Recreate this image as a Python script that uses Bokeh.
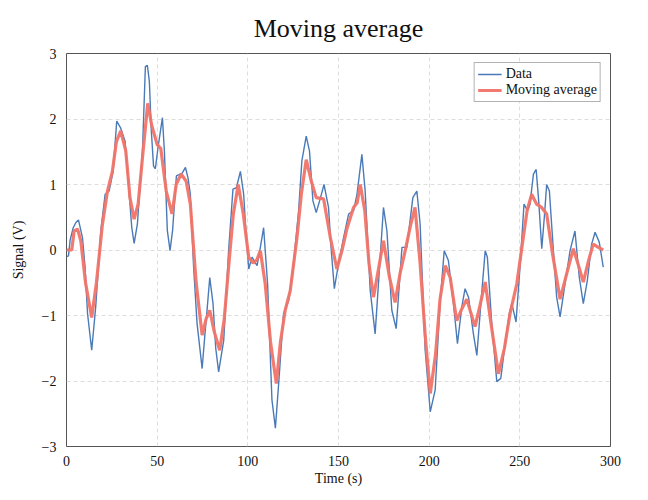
from bokeh.plotting import figure
from bokeh.models import Range1d, FixedTicker, Legend, LegendItem
from bokeh.embed import file_html
from bokeh.resources import INLINE

# ---- data ----
data_t = [0, 1.1, 2.0, 3.7, 5.2, 6.6, 8.8, 10.2, 11.6, 13.9, 16.1, 17.5, 18.9, 21.3, 23.5,
          25.7, 27.7, 29.9, 32.3, 34.2, 36.0, 37.3, 39.1, 41.9, 43.5, 44.6, 45.7, 46.8, 48.0,
          49.0, 50.4, 52.9, 54.0, 55.6, 57.1, 58.5, 60.6, 63.7, 65.6, 67.0, 68.3, 70.1, 72.0,
          74.8, 76.3, 77.5, 79.0, 80.8, 82.3, 83.9, 86.7, 89.4, 91.8, 93.7, 95.9, 97.7, 99.0,
          100.5, 102.3, 105.1, 106.9, 108.7, 110.9, 113.3, 115.2, 117.0, 119.7, 122.5, 125.2,
          128.0, 129.8, 132.2, 134.0, 135.9, 137.7, 139.9, 142.0, 144.5, 146.0, 147.7, 150.0,
          152.8, 155.6, 158.3, 160.2, 162.9, 164.7, 167.5, 170.2, 173.0, 174.8, 176.7, 179.4,
          181.8, 185.0, 187.7, 191.0, 193.2, 195.0, 197.8, 200.6, 203.3, 206.1, 208.3, 210.6,
          213.4, 215.6, 218.0, 219.8, 221.7, 224.4, 226.3, 228.5, 230.9, 232.1, 234.5, 237.3,
          239.5, 241.9, 244.2, 245.6, 247.9, 250.1, 252.3, 254.2, 255.6, 257.5, 259.0, 260.4,
          262.1, 263.5, 264.8, 266.3, 268.5, 270.3, 272.2, 274.9, 277.7, 280.4, 282.8, 285.0,
          287.2, 289.6, 291.5, 293.8, 296.0]
data_v = [-0.10, -0.09, 0.15, 0.34, 0.42, 0.46, 0.19, -0.25, -0.97, -1.53, -0.87, -0.30, 0.29,
          0.85, 0.90, 1.20, 1.97, 1.86, 1.66, 1.00, 0.34, 0.10, 0.40, 1.51, 2.80, 2.82, 2.57,
          1.81, 1.28, 1.24, 1.55, 2.02, 1.50, 0.30, -0.01, 0.30, 1.13, 1.17, 1.26, 1.10, 0.85,
          -0.26, -1.12, -1.81, -1.30, -0.92, -0.42, -0.82, -1.50, -1.86, -1.38, -0.01, 0.93,
          0.95, 1.20, 0.85, 0.25, -0.29, -0.11, -0.24, 0.04, 0.34, -0.52, -2.29, -2.72, -2.04,
          -0.97, -0.77, -0.21, 0.60, 1.36, 1.74, 1.51, 0.75, 0.57, 0.78, 1.00, 0.65, 0.00,
          -0.59, -0.21, 0.19, 0.55, 0.60, 0.85, 1.46, 0.90, -0.62, -1.28, -0.11, 0.65, 0.29,
          -0.92, -1.20, 0.04, 0.04, 0.80, 0.90, 0.40, -1.53, -2.47, -2.14, -0.77, -0.01, -0.16,
          -0.82, -1.43, -0.87, -0.59, -0.72, -1.28, -1.61, -0.82, -0.01, -0.11, -1.12, -2.01,
          -1.96, -1.43, -0.97, -0.82, -1.10, -0.26, 0.70, 0.60, 0.70, 1.16, 1.23, 0.75, 0.02,
          0.50, 1.00, 0.90, -0.01, -0.72, -1.02, -0.52, -0.01, 0.29, -0.42, -0.82, -0.47, 0.09,
          0.27, 0.12, -0.26]

ma_t = [0, 2.9, 4.2, 6.1, 7.9, 10.5, 13.9, 16.5, 19.8, 22.6, 25.3, 27.5, 29.9, 32.7, 35.0,
        37.3, 39.5, 41.9, 44.8, 47.0, 50.0, 52.0, 55.0, 58.2, 60.5, 63.2, 66.0, 68.3, 71.5,
        74.8, 77.0, 79.0, 81.5, 84.5, 87.0, 89.4, 92.0, 94.7, 97.5, 100.5, 102.9, 105.0, 106.9,
        109.6, 112.5, 115.7, 118.0, 120.6, 123.4, 127.1, 129.5, 132.2, 135.0, 137.7, 141.8,
        145.5, 149.1, 152.0, 154.6, 158.3, 160.3, 162.0, 164.5, 166.8, 169.3, 172.0, 174.8,
        178.0, 181.2, 184.0, 186.8, 189.5, 192.2, 195.0, 197.8, 200.6, 203.5, 206.0, 208.9,
        211.6, 215.2, 218.0, 220.7, 225.3, 228.0, 230.9, 234.5, 238.2, 241.5, 244.6, 248.3,
        251.9, 254.0, 256.5, 259.3, 262.0, 264.8, 268.0, 272.2, 275.5, 279.5, 282.5, 285.0,
        288.0, 290.5, 293.3, 296.0]
ma_v = [0.00, 0.00, 0.29, 0.32, 0.14, -0.50, -1.03, -0.50, 0.39, 0.90, 1.20, 1.65, 1.82, 1.51,
        0.80, 0.47, 0.70, 1.41, 2.24, 1.90, 1.61, 1.55, 0.90, 0.55, 1.00, 1.16, 1.05, 0.70,
        -0.50, -1.30, -1.05, -0.92, -1.25, -1.53, -1.05, -0.26, 0.55, 1.00, 0.55, -0.11, -0.20,
        -0.15, -0.01, -0.52, -1.40, -2.04, -1.40, -0.92, -0.62, 0.19, 0.85, 1.38, 1.05, 0.80,
        0.78, 0.19, -0.29, 0.00, 0.32, 0.65, 0.72, 1.00, 0.60, -0.20, -0.72, -0.30, 0.14,
        -0.40, -0.80, -0.35, -0.01, 0.35, 0.65, -0.20, -1.30, -2.19, -1.60, -0.75, -0.24,
        -0.42, -1.08, -0.90, -0.75, -1.17, -0.85, -0.49, -1.20, -1.89, -1.50, -0.97, -0.52,
        0.19, 0.60, 0.85, 0.70, 0.65, 0.55, -0.05, -0.75, -0.40, 0.02, -0.25, -0.49, -0.15,
        0.09, 0.04, 0.00]

x_ticks = [0, 50, 100, 150, 200, 250, 300]
y_ticks = [-3, -2, -1, 0, 1, 2, 3]
y_tick_labels = {-3: "\u22123", -2: "\u22122", -1: "\u22121", 0: "0", 1: "1", 2: "2", 3: "3"}

SERIF = "Liberation Serif"

p = figure(width=632, height=488, output_backend="svg", toolbar_location=None,
           x_range=Range1d(0, 300), y_range=Range1d(-3, 3),
           min_border_left=66, min_border_right=22, min_border_top=52, min_border_bottom=38)

p.title.text = "Moving average"
p.title.align = "center"
p.title.text_font = SERIF
p.title.text_font_size = "26px"
p.title.text_font_style = "normal"
p.title.text_color = "#111111"
p.title.standoff = 22

p.outline_line_color = "#555555"
p.outline_line_width = 1
p.background_fill_color = "white"
p.border_fill_color = "white"

for ax in (p.xaxis[0], p.yaxis[0]):
    ax.axis_line_color = None
    ax.major_tick_line_color = None
    ax.minor_tick_line_color = None
    ax.major_label_text_font = SERIF
    ax.major_label_text_font_size = "14px"
    ax.major_label_text_color = "#111111"
    ax.axis_label_text_font = SERIF
    ax.axis_label_text_font_size = "14px"
    ax.axis_label_text_font_style = "normal"
    ax.axis_label_text_color = "#111111"

p.xaxis.ticker = FixedTicker(ticks=x_ticks)
p.yaxis.ticker = FixedTicker(ticks=y_ticks)
p.yaxis.major_label_overrides = y_tick_labels
p.xaxis.axis_label = "Time (s)"
p.yaxis.axis_label = "Signal (V)"
p.xaxis.major_label_standoff = 3
p.yaxis.major_label_standoff = 4
p.xaxis.axis_label_standoff = 2
p.yaxis.axis_label_standoff = 13

for g in (p.xgrid[0], p.ygrid[0]):
    g.grid_line_color = "#dddddd"
    g.grid_line_dash = "4 3"
    g.grid_line_width = 1

r_data = p.line(data_t, data_v, line_color="#4a7ab8", line_width=1.4)
r_ma = p.line(ma_t, ma_v, line_color="#f07468", line_width=3.2, line_alpha=0.95)

legend = Legend(items=[LegendItem(label="Data", renderers=[r_data]),
                       LegendItem(label="Moving average", renderers=[r_ma])],
                location="top_right")
legend.label_text_font = SERIF
legend.label_text_font_size = "14px"
legend.label_text_color = "#111111"
legend.border_line_color = "#666666"
legend.border_line_width = 1
legend.background_fill_alpha = 1.0
legend.glyph_width = 24
legend.glyph_height = 14
legend.label_height = 14
legend.label_standoff = 4
legend.spacing = 0
legend.padding = 3
legend.margin = 9
legend.border_radius = 0
p.add_layout(legend)

open("out.html", "w").write(file_html(p, INLINE))
